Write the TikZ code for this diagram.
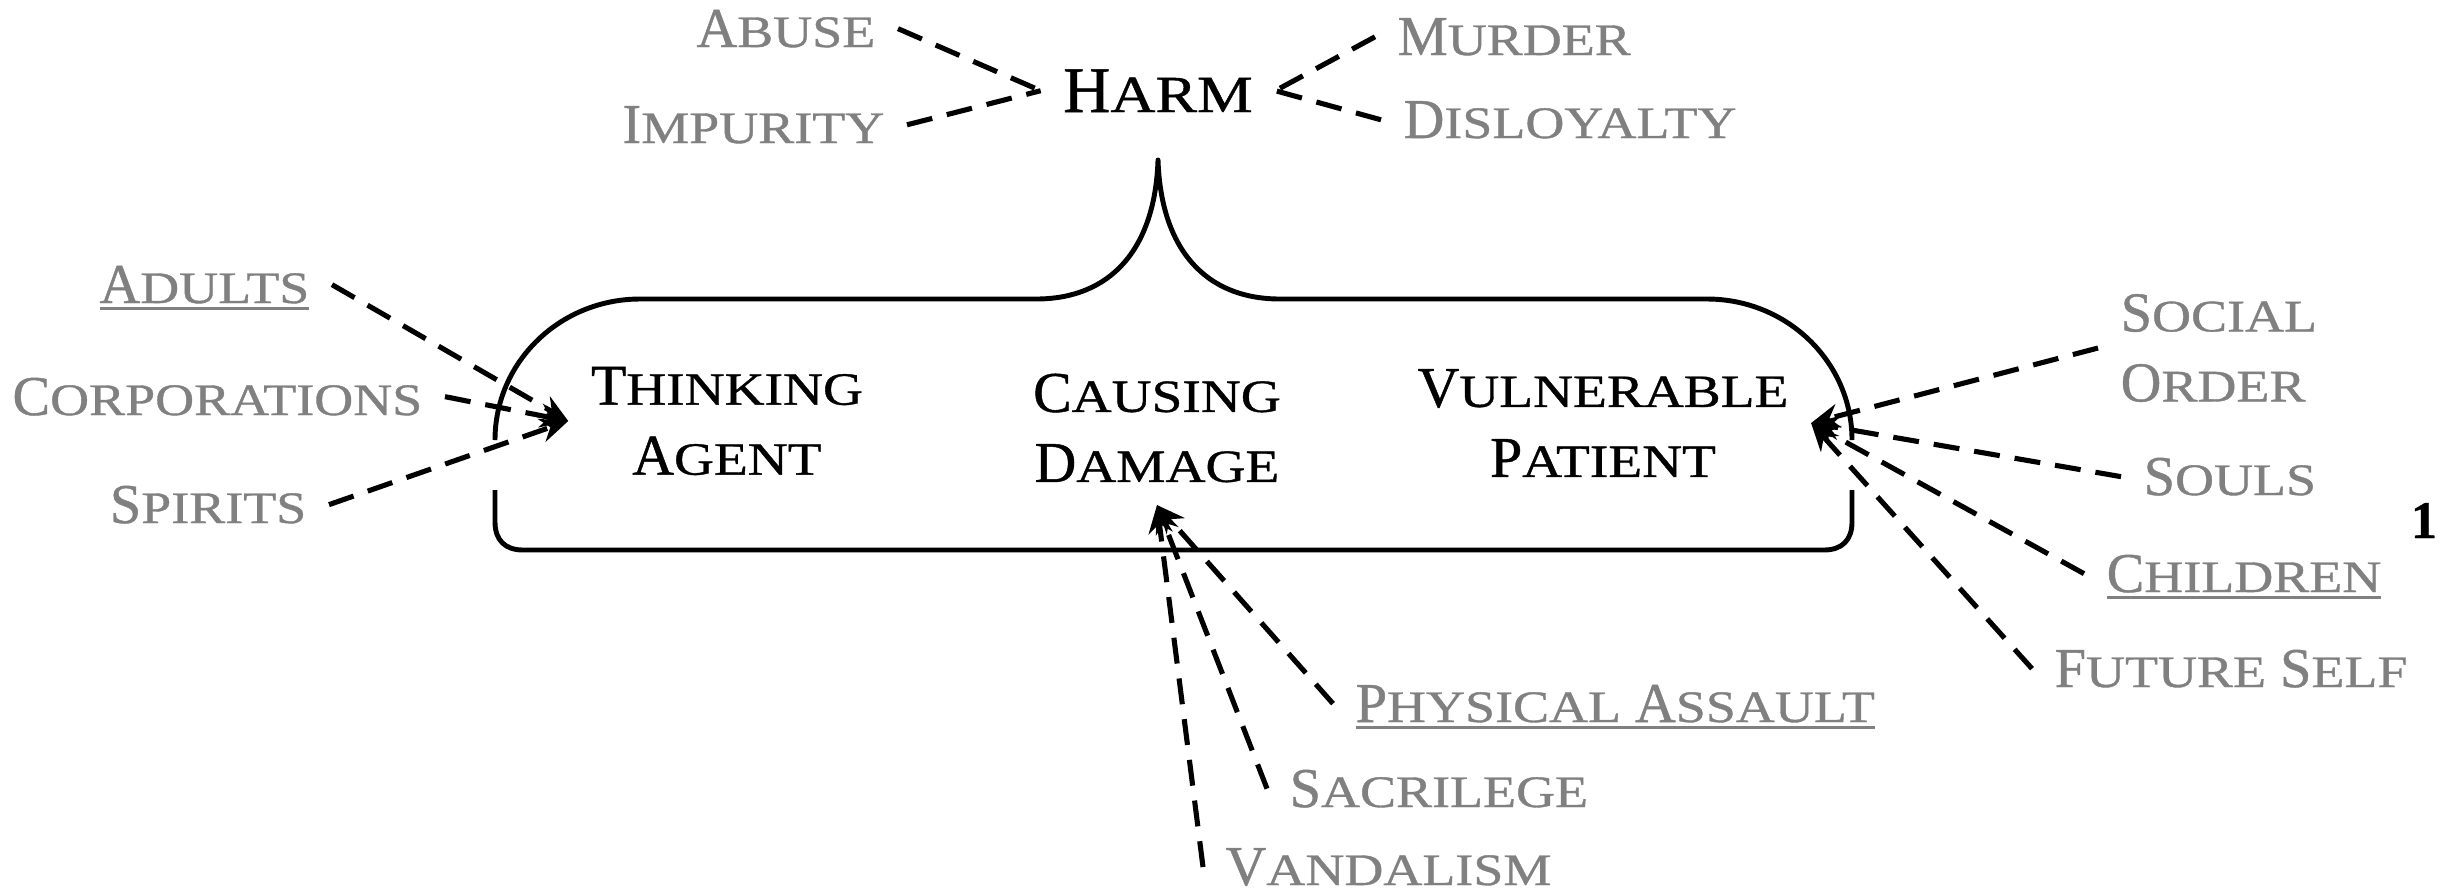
\documentclass[tikz,border=0pt]{standalone}
\usepackage{fontspec}
\setmainfont[FakeBold=0.8]{Liberation Serif}
\newfontfamily\smcfont[Scale=0.8,FakeStretch=1.2,FakeBold=0.8]{Liberation Serif}
\usepackage{xcolor}
\usetikzlibrary{arrows.meta, positioning}
\definecolor{labelgray}{gray}{0.5}
\newcommand{\smc}[2]{#1{\smcfont #2}}
\newcommand{\ulbox}[1]{\setbox0\hbox{#1}\rlap{\smash{\rule[-0.07cm]{\wd0}{0.028cm}}}\box0}
\newcommand{\mainsize}{\fontsize{16.4pt}{19.9pt}\selectfont}
\newcommand{\subsize}{\fontsize{16pt}{19.9pt}\selectfont}
\tikzset{
	concept/.style={font=\mainsize, inner sep=0.22cm, align=center},
	instance/.style={font=\subsize, text=labelgray, inner sep=0.22cm},
	harmline/.style={draw, line width=1.45pt, dash pattern=on 0.26cm off 0.15cm},
	arrowline/.style={harmline, -{Stealth[length=0.28cm, width=0.24cm]}}
}

\begin{document}
\begin{tikzpicture}[
	% One unit is one pixel of the layout, y pointing down.
	x=0.01cm, y=-0.01cm
	]
	\useasboundingbox (0,0) rectangle (2440,893);
	
	% === NODES ===
	% Main concepts.
	
	\node[concept, font=\fontsize{18.5pt}{22pt}\selectfont, anchor=base] (harm) at (1158,112) {\smc{H}{ARM}};
	\node[concept] (agent) at (727,421) {\smc{T}{HINKING}\\\smc{A}{GENT}};
	\node[concept] (damage) at (1157,428) {\smc{C}{AUSING}\\\smc{D}{AMAGE}};
	\node[concept] (patient) at (1603,423) {\smc{V}{ULNERABLE}\\\smc{P}{ATIENT}};
	
	% Instances round the concepts.
	\node[instance, anchor=base east] (abuse) at (898,47) {\smc{A}{BUSE}};
	\node[instance, anchor=base east] (impurity) at (907,143) {\smc{I}{MPURITY}};
	\node[instance, anchor=base west] (murder) at (1375,55) {\smc{M}{URDER}};
	\node[instance, anchor=base west] (disloyalty) at (1381,138) {\smc{D}{ISLOYALTY}};
	
	\node[instance, anchor=base east] (adults) at (332,303) {\ulbox{\smc{A}{DULTS}}};
	\node[instance, anchor=base east] (corporations) at (445,415) {\smc{C}{ORPORATIONS}};
	\node[instance, anchor=base east] (spirits) at (329,523) {\smc{S}{PIRITS}};
	
	\node[instance, anchor=west, align=left] (socialorder) at (2098,348) {\smc{S}{OCIAL}\\\smc{O}{RDER}};
	\node[instance, anchor=base west] (souls) at (2121,495) {\smc{S}{OULS}};
	\node[instance, anchor=base west] (children) at (2084,592) {\ulbox{\smc{C}{HILDREN}}};
	\node[instance, anchor=base west] (futureself) at (2032,687) {\smc{F}{UTURE} \smc{S}{ELF}};
	
	\node[instance, anchor=base west] (assault) at (1333,722) {\ulbox{\smc{P}{HYSICAL} \smc{A}{SSAULT}}};
	\node[instance, anchor=base west] (sacrilege) at (1267,807) {\smc{S}{ACRILEGE}};
	\node[instance, anchor=base west] (vandalism) at (1203,885) {\smc{V}{ANDALISM}};
	
	\node[font=\fontsize{15pt}{18pt}\selectfont\bfseries, anchor=base] (pagenum) at (2424,538) {1};
	
	% === BRACE ===
	% Upper part with the cusp under Harm, then the lower bracket.
	
	\draw[line width=1.4pt, line join=round] (495,440) .. controls (495,362) and (560,299) .. (640,299)
		-- (1036,299) .. controls (1110,299) and (1155,250) .. (1158,160)
		.. controls (1161,250) and (1206,299) .. (1280,299)
		-- (1707,299) .. controls (1787,299) and (1852,362) .. (1852,440);
	\draw[line width=1.4pt, line join=round] (1852,490) -- (1852,522) .. controls (1852,540) and (1842,550) .. (1824,550)
		-- (523,550) .. controls (505,550) and (495,540) .. (495,522) -- (495,490);
	
	% === CONNECTIONS ===
	% Dashed lines from each instance to its concept.
	
	\draw[harmline] (abuse.east) -- (harm.west);
	\draw[harmline] (impurity.east) -- (harm.west);
	\draw[harmline] (murder.west) -- (harm.east);
	\draw[harmline] (disloyalty.west) -- (harm.east);
	
	\draw[arrowline] (adults.east) -- (agent.west);
	\draw[arrowline] (corporations.east) -- (agent.west);
	\draw[arrowline] (spirits.east) -- (agent.west);
	
	\draw[arrowline] (socialorder.west) -- (patient.east);
	\draw[arrowline] (souls.west) -- (patient.east);
	\draw[arrowline] (children.west) -- (patient.east);
	\draw[arrowline] (futureself.west) -- (patient.east);
	
	\draw[arrowline] (assault.west) -- (damage.south);
	\draw[arrowline] (sacrilege.west) -- (damage.south);
	\draw[arrowline] (vandalism.west) -- (damage.south);
\end{tikzpicture}
\end{document}
